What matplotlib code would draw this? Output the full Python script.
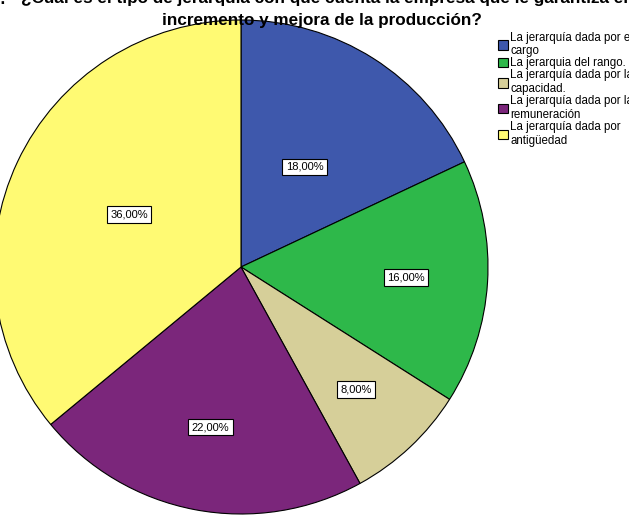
import matplotlib.pyplot as plt
import numpy as np

plt.rcParams['font.family'] = ['Liberation Sans', 'DejaVu Sans']

labels = ["La jerarquía dada por el\ncargo",
          "La jerarquia del rango.",
          "La jerarquía dada por la\ncapacidad.",
          "La jerarquía dada por la\nremuneración",
          "La jerarquía dada por\nantigüedad"]
values = [18, 16, 8, 22, 36]
colors = ["#3E58AC", "#2EB84A", "#D6CF99", "#7B267B", "#FFFA73"]
pct_dist = [0.48, 0.67, 0.68, 0.66, 0.5]

W, H = 629, 520
fig = plt.figure(figsize=(W / 100, H / 100), dpi=100)
ax = fig.add_axes([0, 0, 1, 1])

cx, cy, r = 241, H - 267, 247
wedges, _ = ax.pie(values, colors=colors, startangle=90, counterclock=False,
                   center=(cx, cy), radius=r,
                   wedgeprops=dict(edgecolor='black', linewidth=0.8))
ax.set_xlim(0, W)
ax.set_ylim(0, H)
ax.set_aspect('equal')
ax.axis('off')

for w, v, d in zip(wedges, values, pct_dist):
    ang = np.deg2rad((w.theta1 + w.theta2) / 2)
    ax.text(cx + d * r * np.cos(ang), cy + d * r * np.sin(ang), "%d,00%%" % v,
            ha='center', va='center', fontsize=8,
            bbox=dict(boxstyle='square,pad=0.3', fc='white', ec='black', lw=0.8))

# title, first line partly cut off at the top as in the source
fig.text(325 / W, 1 + 1 / H, "¿Cuál es el tipo de jerarquía con que cuenta la empresa que le garantiza el",
         ha='center', va='center', fontsize=12.3, fontweight='bold')
fig.text(322 / W, 1 - 20 / H, "incremento y mejora de la producción?",
         ha='center', va='center', fontsize=12.3, fontweight='bold')
fig.text(6 / W, 1 + 1 / H, "7.", ha='right', va='center', fontsize=12.3, fontweight='bold')

fig.legend(wedges, labels, loc='upper left', bbox_to_anchor=(493 / W, 1 - 27 / H),
           fontsize=8.3, frameon=False, handlelength=0.9, handleheight=0.9,
           handletextpad=0.2, labelspacing=0.0, borderaxespad=0)

fig.savefig("out.png", dpi=100)
